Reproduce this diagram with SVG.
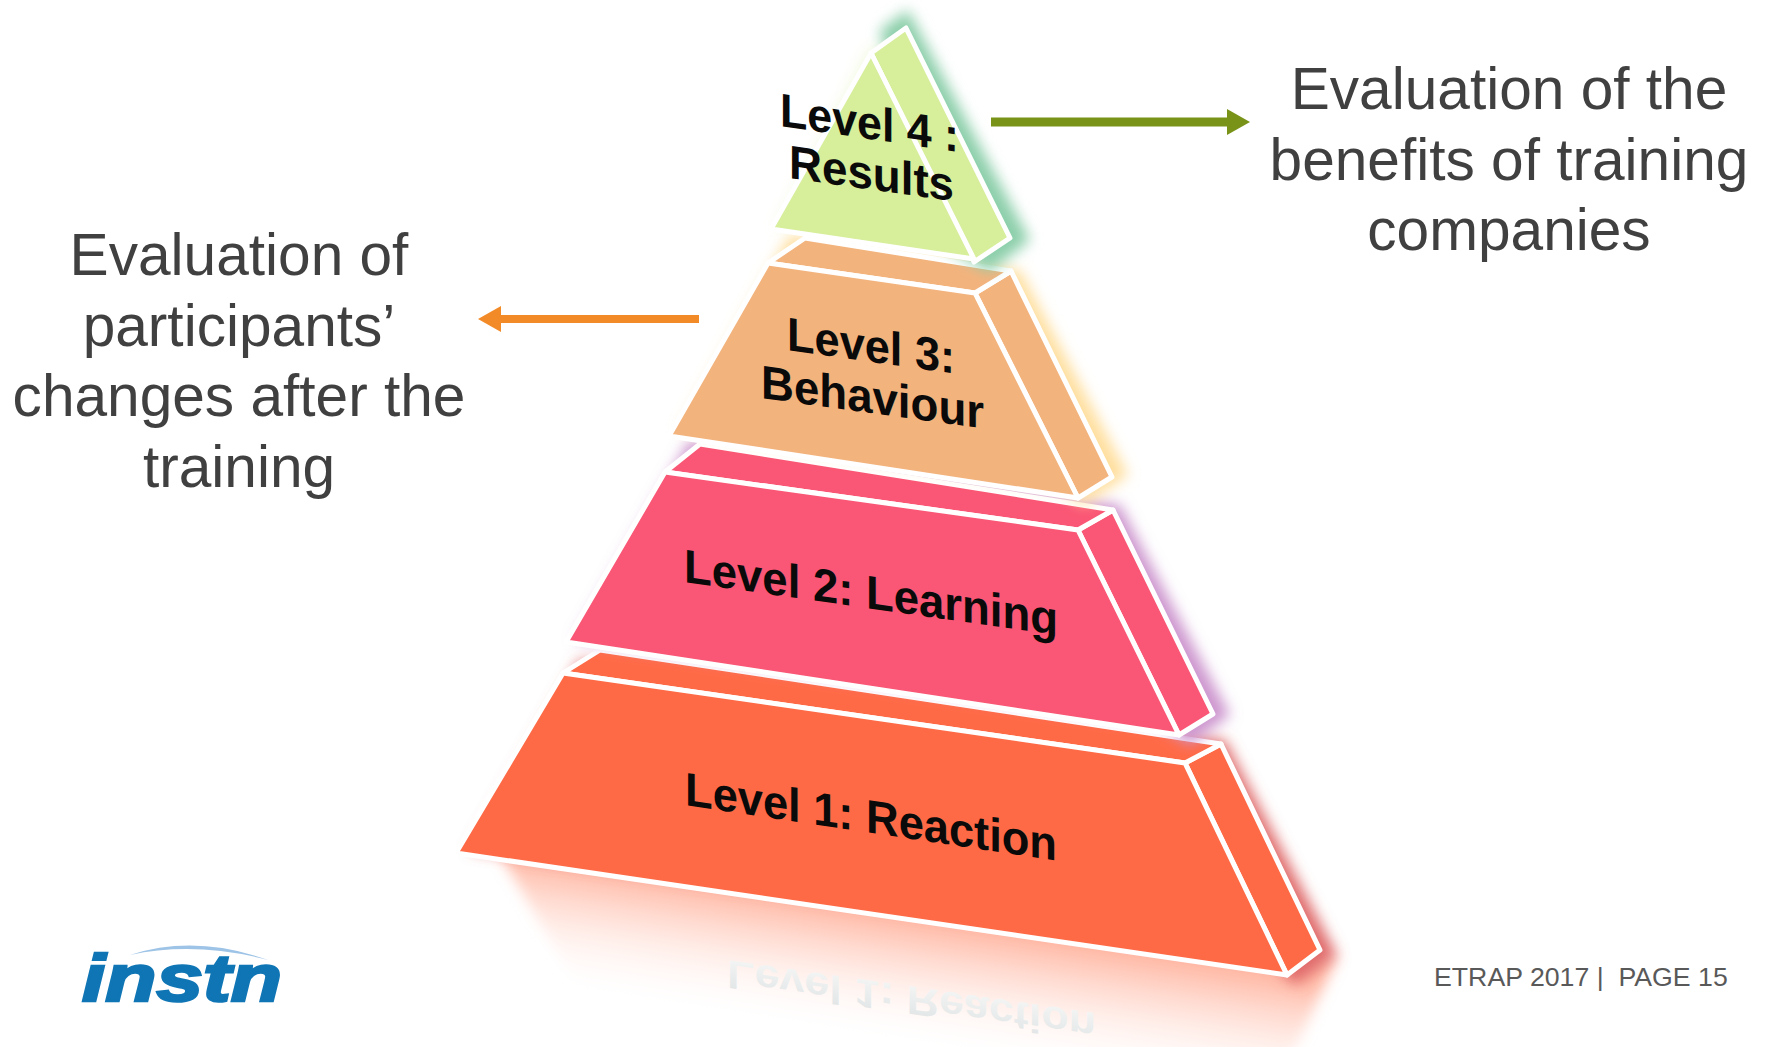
<svg xmlns="http://www.w3.org/2000/svg" width="1767" height="1047" viewBox="0 0 1767 1047">
<style>
.f{stroke:#fff;stroke-width:5;stroke-linejoin:round}
.g{filter:url(#blur)}
.t{font-family:"Liberation Sans",Arial,sans-serif;font-weight:700;font-size:47px;fill:#0a0a0a}
.c{font-family:"Liberation Sans",Arial,sans-serif;font-size:58.6px;fill:#404040;text-anchor:middle}
.l1{fill:#ff6a46}.l2{fill:#fa5675}.l3{fill:#f3b37d}.l4{fill:#d7ee9b}
</style>
<defs>
<filter id="blur" x="-20%" y="-20%" width="140%" height="140%"><feGaussianBlur stdDeviation="7"/></filter>
<linearGradient id="refl" gradientUnits="userSpaceOnUse" x1="870" y1="913" x2="850" y2="1040"><stop offset="0" stop-color="#ffb8a4"/><stop offset="1" stop-color="#fff" stop-opacity="0"/></linearGradient>
<linearGradient id="rt" x1="0" y1="0" x2="0" y2="1"><stop offset="0" stop-color="#dfe3e3"/><stop offset="1" stop-color="#f7f8f8"/></linearGradient>
<marker id="ag" markerUnits="userSpaceOnUse" markerWidth="24" markerHeight="26" refX="0" refY="13" orient="auto"><path d="M0 0L23 13L0 26Z" fill="#789317"/></marker>
<marker id="ao" markerUnits="userSpaceOnUse" markerWidth="24" markerHeight="26" refX="0" refY="13" orient="auto"><path d="M0 0L23 13L0 26Z" fill="#f38a28"/></marker>
</defs>
<rect width="1767" height="1047" fill="#fff"/>

<g id="reflection">
<polygon points="495,845 1295,960 1338,955 1290,1060 620,1060" fill="url(#refl)" class="g"/>
<text transform="translate(727,960) skewY(8.2) scale(1,-1)" class="t" style="fill:url(#rt);font-size:40px" textLength="369" lengthAdjust="spacingAndGlyphs">Level 1: Reaction</text>
</g>

<g id="level-1">
<polygon class="g" points="580,660 1225,740 1337,955 1295,985 1270,960 470,850" fill="#e06a6a"/>
<polygon class="f l1" points="1185,763 1221,744 1320,950 1287,975"/>
<polygon class="f l1" points="563,673 600,650 1221,744 1185,763"/>
<polygon class="f l1" points="563,673 1185,763 1287,975 456,853"/>
<text class="t" transform="translate(685,805) skewY(8.5)" textLength="372" lengthAdjust="spacingAndGlyphs">Level 1: Reaction</text>
</g>

<g id="level-2">
<polygon class="g" points="690,440 1120,505 1230,715 1190,745 1160,725 575,640" fill="#cd96cf"/>
<polygon class="f l2" points="1078,530 1113,510 1213,714 1179,735"/>
<polygon class="f l2" points="665,472 700,444 1113,510 1078,530"/>
<polygon class="f l2" points="665,472 1078,530 1179,735 566,642"/>
<text class="t" transform="translate(684,582) skewY(8.1)" textLength="374" lengthAdjust="spacingAndGlyphs">Level 2: Learning</text>
</g>

<g id="level-3">
<polygon class="g" points="790,235 1020,270 1128,475 1085,505 1060,490 680,430" fill="#ffdf9f"/>
<polygon class="f l3" points="975,293 1011,271 1112,477 1078,498"/>
<polygon class="f l3" points="768,263 805,238 1011,271 975,293"/>
<polygon class="f l3" points="768,263 975,293 1078,498 669,436"/>
<text class="t" transform="translate(787,350) skewY(8)" textLength="168" lengthAdjust="spacingAndGlyphs">Level 3:</text>
<text class="t" transform="translate(761,398) skewY(7.8)" textLength="223" lengthAdjust="spacingAndGlyphs">Behaviour</text>
</g>

<g id="level-4">
<polygon class="g" points="880,30 908,10 1030,240 990,272 930,240" fill="#8ccfaa"/>
<polygon class="g" points="870,48 890,50 930,200 775,228" fill="#d7ee9b" opacity=".35"/>
<polygon class="f l4" points="871,53 906,28 1010,238 974,262"/>
<polygon class="f l4" points="871,53 974,259 771,229"/>
<text class="t" transform="translate(780,126) skewY(8.3)" textLength="179" lengthAdjust="spacingAndGlyphs">Level 4 :</text>
<text class="t" transform="translate(789,178) skewY(8)" textLength="165" lengthAdjust="spacingAndGlyphs">Results</text>
</g>

<g id="connectors">
<line x1="991" y1="122" x2="1227" y2="122" stroke="#789317" stroke-width="9" marker-end="url(#ag)"/>
<line x1="699" y1="319" x2="501" y2="319" stroke="#f38a28" stroke-width="8" marker-end="url(#ao)"/>
</g>

<g id="label-right">
<text class="c" x="1509" y="109">Evaluation of the</text>
<text class="c" x="1509" y="180">benefits of training</text>
<text class="c" x="1509" y="250">companies</text>
</g>
<g id="label-left">
<text class="c" x="239" y="275">Evaluation of</text>
<text class="c" x="239" y="346">participants’</text>
<text class="c" x="239" y="416">changes after the</text>
<text class="c" x="239" y="487">training</text>
</g>

<g id="logo">
<path d="M130 955Q195 934 268 960Q195 941 130 955Z" fill="#9dc3e6"/>
<text x="82" y="1001" textLength="200" lengthAdjust="spacingAndGlyphs" style="font-family:'Liberation Sans',Arial,sans-serif;font-weight:700;font-style:italic;font-size:66px;fill:#0f75b4;stroke:#0f75b4;stroke-width:2.5">instn</text>
</g>
<text id="footer" x="1434" y="986" style="font-family:'Liberation Sans',Arial,sans-serif;font-size:26.7px;fill:#595959" xml:space="preserve">ETRAP 2017 |  PAGE 15</text>
</svg>
